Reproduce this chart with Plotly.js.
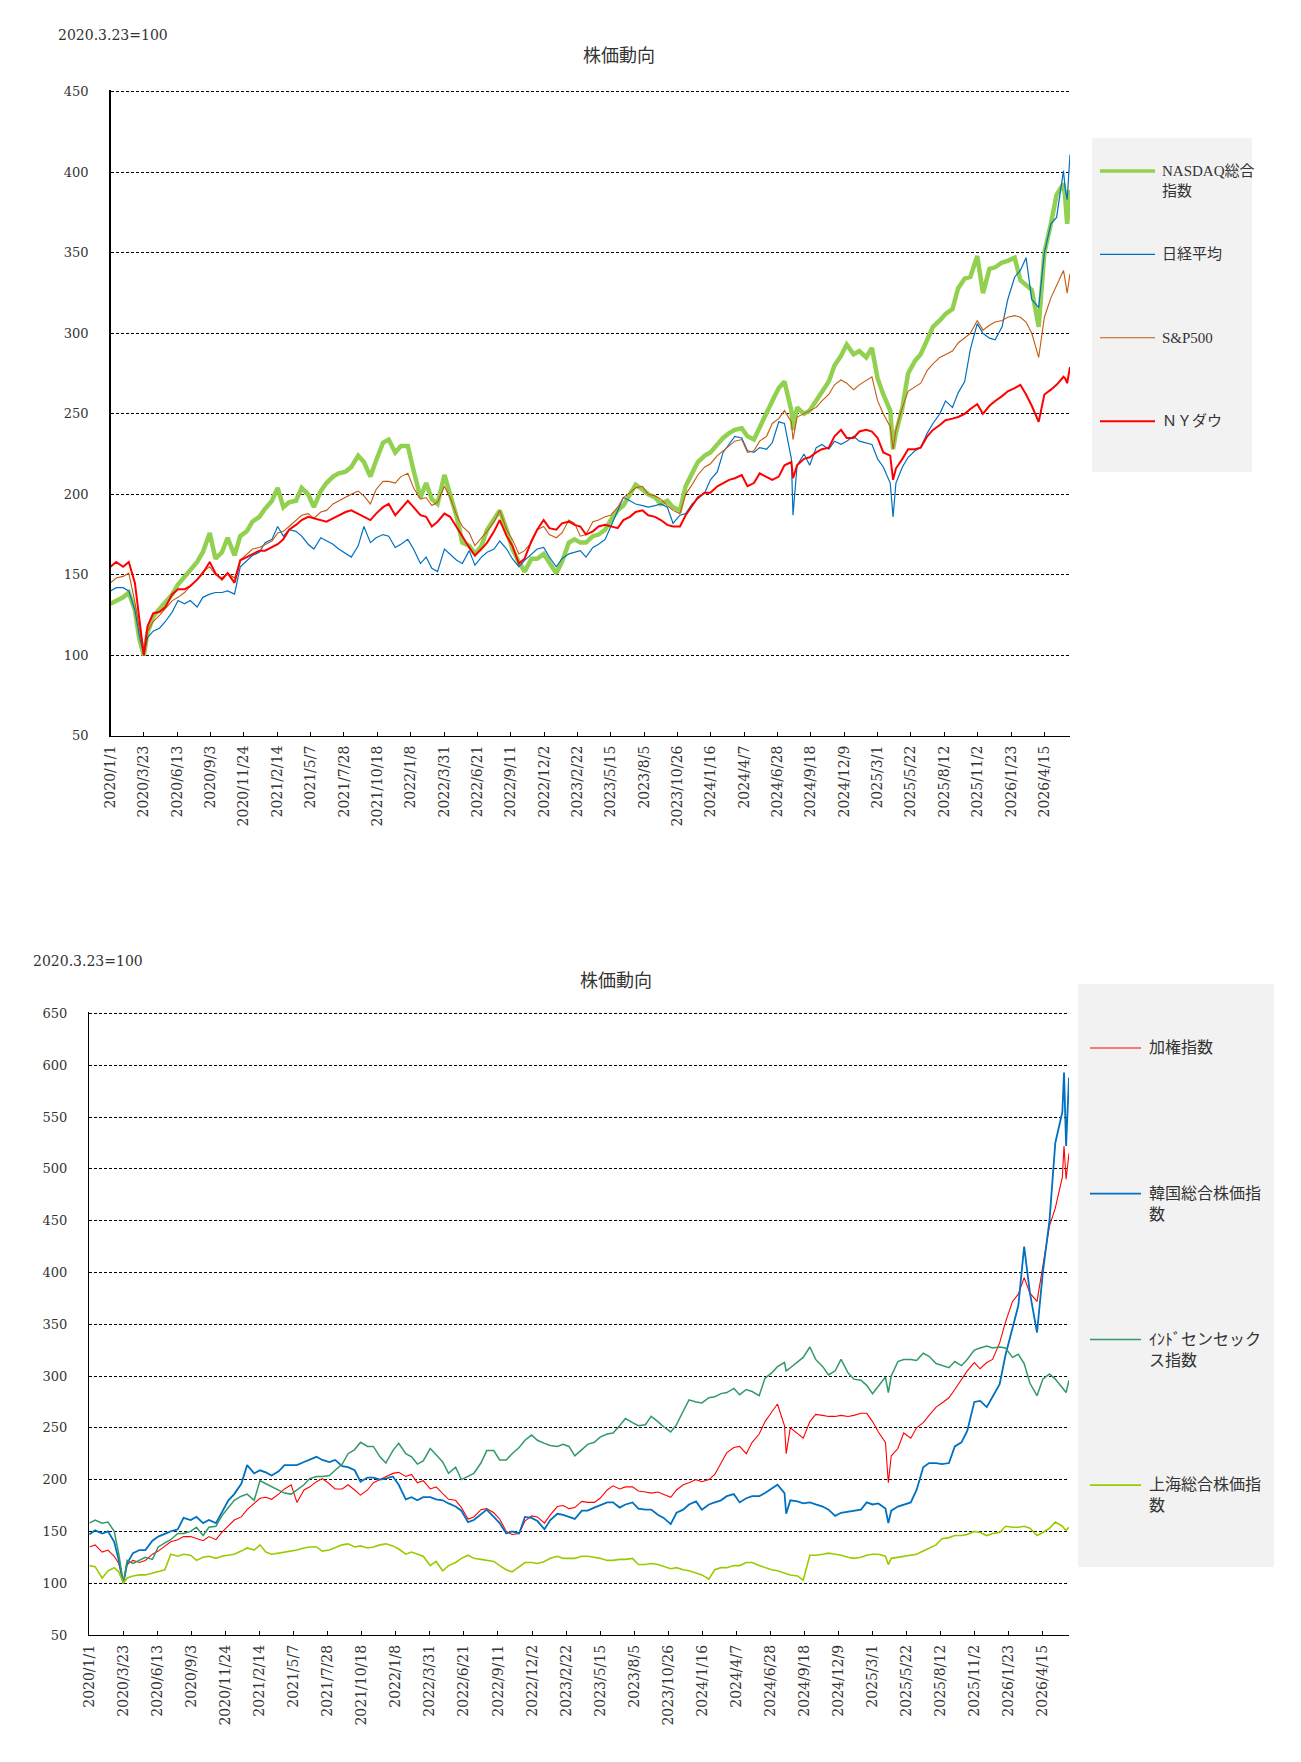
<!DOCTYPE html>
<html>
<head>
<meta charset="utf-8">
<script src="https://cdn.plot.ly/plotly-3.0.1.min.js"></script>
<style>
  html, body { margin: 0; padding: 0; background: #ffffff; }
  #chart { width: 1301px; height: 1762px; }
</style>
</head>
<body>
<div id="chart"></div>
<script>
// Sample dates (semi-monthly, plus a few sharp-move days)
const dates = [
  '2020-01-01','2020-01-15','2020-02-01','2020-02-15','2020-03-01','2020-03-12','2020-03-23','2020-04-01','2020-04-15','2020-05-01','2020-05-15','2020-06-01','2020-06-15','2020-07-01','2020-07-15','2020-08-01','2020-08-15','2020-09-01','2020-09-15','2020-10-01','2020-10-15','2020-11-01','2020-11-15','2020-12-01','2020-12-15',
  '2021-01-01','2021-01-15','2021-02-01','2021-02-15','2021-03-01','2021-03-15','2021-04-01','2021-04-15','2021-05-01','2021-05-15','2021-06-01','2021-06-15','2021-07-01','2021-07-15','2021-08-01','2021-08-15','2021-09-01','2021-09-15','2021-10-01','2021-10-15','2021-11-01','2021-11-15','2021-12-01','2021-12-15',
  '2022-01-01','2022-01-15','2022-02-01','2022-02-15','2022-03-01','2022-03-15','2022-04-01','2022-04-15','2022-05-01','2022-05-15','2022-06-01','2022-06-15','2022-07-01','2022-07-15','2022-08-01','2022-08-15','2022-09-01','2022-09-15','2022-10-01','2022-10-15','2022-11-01','2022-11-15','2022-12-01','2022-12-15',
  '2023-01-01','2023-01-15','2023-02-01','2023-02-15','2023-03-01','2023-03-15','2023-04-01','2023-04-15','2023-05-01','2023-05-15','2023-06-01','2023-06-15','2023-07-01','2023-07-15','2023-08-01','2023-08-15','2023-09-01','2023-09-15','2023-10-01','2023-10-15','2023-11-01','2023-11-15','2023-12-01','2023-12-15',
  '2024-01-01','2024-01-15','2024-02-01','2024-02-15','2024-03-01','2024-03-15','2024-04-01','2024-04-15','2024-05-01','2024-05-15','2024-06-01','2024-06-15','2024-07-01','2024-07-15','2024-08-01','2024-08-05','2024-08-15','2024-09-01','2024-09-15','2024-10-01','2024-10-15','2024-11-01','2024-11-15','2024-12-01','2024-12-15',
  '2025-01-01','2025-01-15','2025-02-01','2025-02-15','2025-03-01','2025-03-15','2025-04-01','2025-04-08','2025-04-15','2025-05-01','2025-05-15','2025-06-01','2025-06-15','2025-07-01','2025-07-15','2025-08-01','2025-08-15','2025-09-01','2025-09-15','2025-10-01','2025-10-15','2025-11-01','2025-11-15','2025-12-01','2025-12-15',
  '2026-01-01','2026-01-15','2026-02-01','2026-02-15','2026-03-01','2026-03-15','2026-04-01','2026-04-15','2026-05-01','2026-05-15','2026-06-01','2026-06-05','2026-06-10','2026-06-17'
];

const tickLabels = [
  '2020/1/1','2020/3/23','2020/6/13','2020/9/3','2020/11/24','2021/2/14','2021/5/7','2021/7/28',
  '2021/10/18','2022/1/8','2022/3/31','2022/6/21','2022/9/11','2022/12/2','2023/2/22','2023/5/15',
  '2023/8/5','2023/10/26','2024/1/16','2024/4/7','2024/6/28','2024/9/18','2024/12/9','2025/3/1',
  '2025/5/22','2025/8/12','2025/11/2','2026/1/23','2026/4/15'
];

const baseNote = '2020.3.23=100';
const chartTitle = '株価動向';

// US indices and Nikkei (2020.3.23 = 100)
const nasdaq = [
  132,134,136,139,128,110,100,114,124,129,133,138,144,149,153,158,164,176,160,164,173,162,174,177,183,
  186,191,196,204,192,195,196,204,200,192,202,207,211,213,214,217,224,220,211,221,232,234,226,230,
  230,215,198,207,197,194,212,200,186,170,168,163,168,178,184,190,178,166,158,152,160,160,163,158,
  151,158,170,172,170,170,174,175,178,184,190,193,200,206,203,200,198,194,196,192,190,205,213,220,
  224,226,231,235,238,240,241,236,234,242,250,258,266,270,252,240,254,250,252,258,264,270,280,286,293,
  287,289,285,291,272,262,252,228,238,254,275,283,287,296,304,308,312,315,328,334,335,348,325,340,341,
  344,345,347,333,330,327,304,350,368,386,393,385,368,389
];
const nikkei = [
  140,142,142,140,128,112,100,111,115,117,121,127,134,132,134,130,136,138,139,139,140,138,155,159,162,
  164,170,172,180,174,178,177,174,169,166,173,171,169,166,163,161,168,180,170,173,175,174,167,169,
  172,166,157,161,154,152,166,163,159,157,165,156,161,164,166,171,166,160,155,159,163,166,167,161,
  155,160,163,164,165,161,167,169,172,180,190,198,196,194,193,192,193,194,192,182,187,188,194,197,
  201,209,214,226,231,236,235,227,226,229,228,232,245,244,222,187,218,225,218,229,231,228,233,231,233,
  236,233,232,231,222,217,207,186,207,217,223,227,229,238,244,250,258,254,263,270,290,306,300,297,296,
  304,321,335,339,347,321,316,350,368,372,401,390,383,411
];
const sp500 = [
  145,148,149,151,133,116,100,115,121,125,129,134,136,139,143,147,152,155,150,148,151,148,159,163,166,
  167,169,171,176,177,180,184,187,188,185,189,190,194,196,198,200,202,199,194,203,208,208,207,211,
  213,204,197,198,193,195,205,198,187,180,176,168,173,177,183,190,178,172,163,165,170,178,180,175,
  173,176,184,182,174,175,183,184,186,187,192,198,201,204,205,200,199,197,193,190,188,200,206,212,
  217,219,224,227,230,233,234,226,227,233,236,244,247,252,245,234,248,250,252,254,258,262,268,271,269,
  265,268,271,273,258,250,242,228,240,254,264,267,269,277,281,285,287,289,294,297,300,308,302,305,307,
  308,310,311,310,307,300,285,310,322,330,339,333,325,337
];
const nyDow = [
  155,158,155,158,145,124,100,118,126,127,130,138,141,141,143,147,151,158,151,147,151,145,159,161,163,
  165,165,167,169,172,178,181,184,186,185,184,183,185,187,189,190,188,186,184,188,192,194,187,191,
  196,192,187,186,180,183,188,186,180,174,167,162,166,170,177,184,174,168,157,160,171,178,184,179,
  178,182,183,181,180,175,177,180,181,180,179,184,186,189,190,187,186,184,181,180,180,187,193,198,
  201,201,205,207,209,210,212,205,207,213,211,209,211,218,220,210,218,222,223,226,228,229,236,240,235,
  235,239,240,239,235,226,224,209,216,222,228,228,229,236,240,243,246,247,248,250,253,256,250,255,258,
  261,264,266,268,262,255,245,262,265,268,273,272,269,279
];

// Asian indices (2020.3.23 = 100)
const taiex = [
  135,137,130,132,126,119,100,118,122,120,122,128,131,136,140,142,145,145,143,141,145,142,149,155,161,
  164,171,177,182,183,181,186,191,195,178,190,193,198,201,196,191,191,195,190,185,190,197,200,203,
  206,207,203,205,197,199,191,193,187,181,180,173,162,164,171,172,168,162,150,147,148,160,165,164,
  158,166,174,175,172,173,179,178,178,182,190,194,191,193,193,189,188,187,188,186,183,190,195,197,
  200,198,200,205,216,226,231,232,225,236,244,256,265,273,252,225,250,244,240,256,263,262,261,261,262,
  261,262,264,264,256,246,236,197,223,230,245,240,250,255,262,270,274,279,287,296,305,313,307,313,316,
  332,352,372,379,395,380,372,405,445,462,492,522,490,515
];
const kospi = [
  147,151,148,150,140,122,100,119,129,132,132,141,145,148,150,152,163,161,164,158,161,158,168,180,186,
  196,214,206,209,207,204,208,214,214,214,217,219,222,219,217,219,213,212,209,198,202,202,200,201,
  203,195,181,183,180,183,183,181,180,177,174,170,159,161,167,171,164,158,148,150,148,164,163,160,
  152,161,167,166,164,162,170,170,173,175,178,178,173,176,178,172,171,171,166,163,157,168,171,176,
  179,171,176,178,180,184,186,178,182,184,184,187,191,195,187,167,180,179,177,178,176,174,171,165,168,
  169,170,171,178,176,177,172,158,170,174,176,178,190,212,216,216,215,216,232,236,247,275,276,270,280,
  292,320,345,368,425,380,342,400,450,525,555,593,522,588
];
const sensex = [
  158,161,158,159,150,128,100,122,119,122,125,123,135,139,142,148,148,150,154,146,154,155,165,173,180,
  184,186,180,199,196,193,190,187,186,190,195,201,203,203,204,209,215,225,229,236,232,232,222,216,
  228,235,225,222,215,218,230,224,217,206,212,200,203,206,216,228,228,219,219,225,231,238,243,238,
  235,233,232,234,232,223,229,234,236,241,244,245,252,259,255,252,253,261,256,251,246,253,266,277,
  275,274,279,280,283,284,288,282,287,285,281,298,303,309,313,305,308,313,318,328,316,309,301,305,316,
  303,297,296,291,283,290,299,284,300,314,316,316,315,322,319,312,310,308,314,310,316,325,327,329,327,
  328,327,318,321,312,293,281,297,302,297,288,286,284,296
];
const shanghai = [
  117,116,105,112,115,111,100,105,107,108,108,110,111,113,128,126,128,127,122,125,126,124,126,127,128,
  131,134,132,137,130,128,129,130,131,132,134,135,135,131,132,134,137,138,135,136,134,135,137,138,
  136,133,128,130,128,126,117,121,112,117,120,124,127,124,123,122,121,117,113,111,116,120,120,119,
  121,124,126,124,124,124,126,126,125,124,122,122,123,123,124,118,118,119,118,116,114,115,113,112,
  110,108,104,113,115,115,117,117,120,120,117,115,113,112,110,109,108,107,103,127,127,128,129,128,127,
  125,124,125,127,128,128,126,118,124,125,126,127,128,131,134,137,143,144,146,146,147,150,149,146,148,
  149,155,154,154,155,153,146,149,153,159,155,153,151,154
];

const usNames   = ['NASDAQ総合<br>指数', '日経平均', 'S&P500', 'ＮＹダウ'];
const asiaNames = ['加権指数', '韓国総合株価指<br>数', 'ｲﾝﾄﾞセンセック<br>ス指数', '上海総合株価指<br>数'];

// ---- styling ----
const W = 1301, H = 1762;
const fx = px => px / W;
const fy = py => 1 - py / H;

const usStyle = [
  { color: '#92D050', width: 4.5 },
  { color: '#0070C0', width: 1.2 },
  { color: '#C55A11', width: 1.1 },
  { color: '#FF0000', width: 2.0 }
];
const asiaStyle = [
  { color: '#FF0000', width: 1.1 },
  { color: '#0070C0', width: 1.8 },
  { color: '#339966', width: 1.5 },
  { color: '#99CC00', width: 1.6 }
];

const tickVals = tickLabels.map(s => {
  const [y, m, d] = s.split('/');
  return `${y}-${m.padStart(2, '0')}-${d.padStart(2, '0')}`;
});

const usSeries = [nasdaq, nikkei, sp500, nyDow];
const asiaSeries = [taiex, kospi, sensex, shanghai];

const traces = [];
usSeries.forEach((vals, i) => traces.push({
  type: 'scatter', mode: 'lines', x: dates, y: vals, name: usNames[i],
  xaxis: 'x', yaxis: 'y', line: { color: usStyle[i].color, width: usStyle[i].width },
  showlegend: false, hoverinfo: 'skip'
}));
asiaSeries.forEach((vals, i) => traces.push({
  type: 'scatter', mode: 'lines', x: dates, y: vals, name: asiaNames[i],
  xaxis: 'x2', yaxis: 'y2', line: { color: asiaStyle[i].color, width: asiaStyle[i].width },
  showlegend: false, hoverinfo: 'skip'
}));

const tickFontX = { family: 'DejaVu Serif, serif', size: 14, color: '#333333' };
const tickFontY = { family: 'DejaVu Serif, serif', size: 13, color: '#333333' };
const xRange = ['2020-01-01', '2026-06-17'];

function xAxis(domain, anchor) {
  return {
    type: 'date', domain, anchor, range: xRange,
    tickmode: 'array', tickvals: tickVals, ticktext: tickLabels,
    tickangle: -90, ticks: 'inside', ticklen: 4, tickwidth: 1, tickcolor: '#000000',
    showline: true, linecolor: '#000000', linewidth: 1.3,
    showgrid: false, zeroline: false, tickfont: tickFontX, automargin: false,
    ticklabelstandoff: 3
  };
}
// the top of each value range sits a hair above the last gridline so that line is drawn
function yAxis(domain, anchor, range) {
  return {
    domain, anchor, range, tick0: 50, dtick: 50, ticks: '',
    showline: true, linecolor: '#000000', linewidth: 1.3,
    showgrid: true, gridcolor: '#000000', gridwidth: 1, griddash: '3px,2px',
    zeroline: false, tickfont: tickFontY, automargin: false,
    ticklabelstandoff: 18
  };
}

const shapes = [];
const annotations = [];

function legend(names, styles, box, firstY, stepY, lineX0, lineX1, textX, fontSize) {
  shapes.push({
    type: 'rect', xref: 'paper', yref: 'paper',
    x0: fx(box[0]), x1: fx(box[1]), y0: fy(box[3]), y1: fy(box[2]),
    fillcolor: '#F2F2F2', line: { width: 0 }, layer: 'below'
  });
  names.forEach((nm, i) => {
    const yy = firstY + i * stepY;
    shapes.push({
      type: 'line', xref: 'paper', yref: 'paper',
      x0: fx(lineX0), x1: fx(lineX1), y0: fy(yy), y1: fy(yy),
      line: { color: styles[i].color, width: Math.min(styles[i].width, 3.5) }
    });
    annotations.push({
      xref: 'paper', yref: 'paper', x: fx(textX), y: fy(yy - fontSize * 0.68),
      xanchor: 'left', yanchor: 'top', align: 'left', showarrow: false,
      text: nm,
      font: { family: 'Liberation Serif, Noto Sans CJK JP, serif', size: fontSize, color: '#333333' }
    });
  });
}

legend(usNames, usStyle, [1092, 1252, 138, 472], 171, 83.4, 1100, 1155, 1160, 15);
legend(asiaNames, asiaStyle, [1078, 1274, 984, 1567], 1048, 145.7, 1090, 1141, 1147, 16);

function titles(noteX, noteY, titleX, titleY) {
  annotations.push({
    xref: 'paper', yref: 'paper', x: fx(noteX), y: fy(noteY),
    xanchor: 'left', yanchor: 'middle', showarrow: false, text: baseNote,
    font: { family: 'DejaVu Serif, serif', size: 14, color: '#333333' }
  });
  annotations.push({
    xref: 'paper', yref: 'paper', x: fx(titleX), y: fy(titleY),
    xanchor: 'center', yanchor: 'middle', showarrow: false, text: chartTitle,
    font: { family: 'Noto Sans CJK JP, sans-serif', size: 18, color: '#333333' }
  });
}
titles(56, 35, 619, 54);
titles(31, 961, 616, 979);

const layout = {
  width: W, height: H,
  margin: { l: 0, r: 0, t: 0, b: 0, pad: 0 },
  paper_bgcolor: '#ffffff', plot_bgcolor: 'rgba(0,0,0,0)',
  showlegend: false, hovermode: false,
  xaxis:  xAxis([fx(110.5), fx(1070)], 'y'),
  yaxis:  yAxis([fy(735.8), fy(90.2)], 'x', [50, 451]),
  xaxis2: xAxis([fx(89.3), fx(1069)], 'y2'),
  yaxis2: yAxis([fy(1635), fy(1012.4)], 'x2', [50, 651]),
  shapes, annotations
};

Plotly.newPlot('chart', traces, layout, { staticPlot: true, displayModeBar: false });
</script>
</body>
</html>
